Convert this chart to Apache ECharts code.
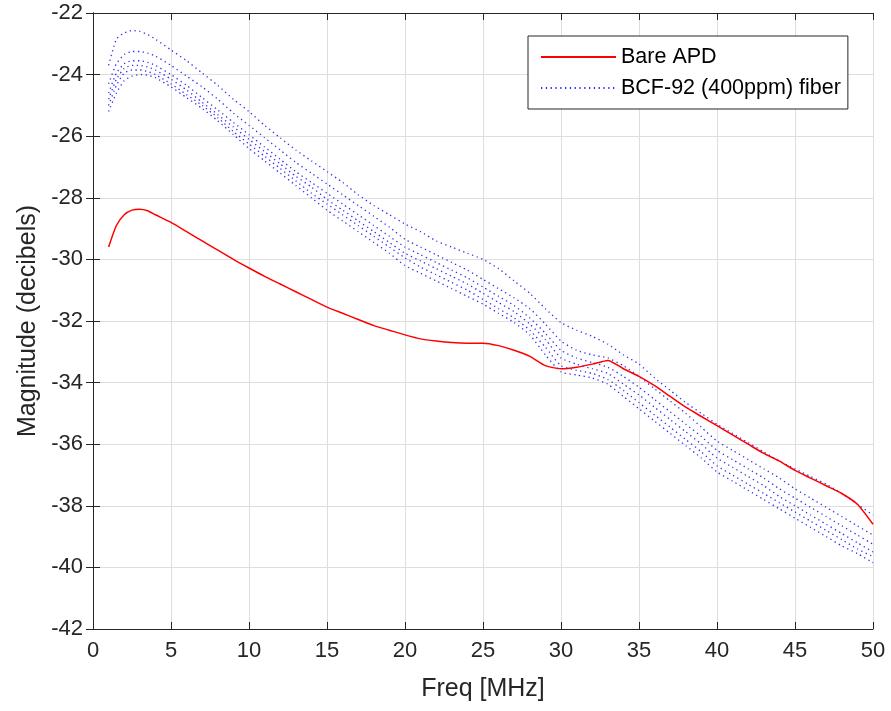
<!DOCTYPE html>
<html>
<head>
<meta charset="utf-8">
<script src="https://cdn.jsdelivr.net/npm/echarts@6/dist/echarts.min.js"></script>
<style>
  html, body { margin: 0; padding: 0; background: #fff; }
  #main { width: 891px; height: 711px; }
</style>
</head>
<body>
<div id="main"></div>
<script>
// frequency axis (MHz)
const freq = [1,1.5,2,2.5,3,3.5,4,5,6,7,8,9,10,11,12,13,14,15,16,17,18,19,20,21,22,23,24,25,26,27,28,29,30,31,32,33,34,35,36,37,38,39,40,41,42,43,44,45,46,47,48,49,50];

// bare APD response (dB)
const bareApd = [-29.6,-28.9,-28.55,-28.4,-28.37,-28.42,-28.55,-28.8,-29.1,-29.4,-29.7,-30.0,-30.28,-30.55,-30.8,-31.05,-31.3,-31.55,-31.75,-31.95,-32.15,-32.3,-32.45,-32.58,-32.65,-32.7,-32.72,-32.72,-32.8,-32.95,-33.15,-33.45,-33.55,-33.5,-33.4,-33.28,-33.55,-33.8,-34.1,-34.45,-34.8,-35.1,-35.4,-35.7,-36.0,-36.3,-36.55,-36.85,-37.1,-37.35,-37.6,-37.95,-38.6];

// BCF-92 fiber runs (dB)
const fiber1 = [-23.7,-22.85,-22.65,-22.57,-22.6,-22.7,-22.85,-23.2,-23.55,-23.95,-24.35,-24.8,-25.2,-25.65,-26.05,-26.45,-26.8,-27.15,-27.5,-27.9,-28.25,-28.55,-28.85,-29.1,-29.4,-29.6,-29.8,-30.0,-30.3,-30.7,-31.1,-31.6,-32.05,-32.3,-32.5,-32.75,-33.1,-33.4,-33.85,-34.25,-34.65,-35.0,-35.35,-35.65,-35.95,-36.25,-36.55,-36.8,-37.05,-37.3,-37.6,-37.95,-38.3];
const fiber2 = [-24.3,-23.65,-23.35,-23.25,-23.25,-23.3,-23.4,-23.7,-24.05,-24.4,-24.8,-25.25,-25.65,-26.05,-26.45,-26.85,-27.2,-27.55,-27.9,-28.25,-28.6,-28.95,-29.35,-29.6,-29.85,-30.1,-30.35,-30.65,-30.95,-31.25,-31.6,-32.1,-32.65,-32.95,-33.1,-33.2,-33.45,-33.8,-34.2,-34.6,-35.0,-35.45,-35.9,-36.2,-36.5,-36.8,-37.1,-37.45,-37.75,-38.05,-38.35,-38.65,-38.95];
const fiber3 = [-24.6,-23.95,-23.65,-23.55,-23.55,-23.6,-23.7,-24.0,-24.35,-24.75,-25.15,-25.55,-25.95,-26.35,-26.75,-27.15,-27.5,-27.85,-28.2,-28.55,-28.9,-29.25,-29.6,-29.85,-30.1,-30.35,-30.6,-30.9,-31.2,-31.5,-31.9,-32.4,-32.95,-33.2,-33.35,-33.5,-33.8,-34.15,-34.55,-34.95,-35.35,-35.75,-36.2,-36.5,-36.8,-37.1,-37.45,-37.75,-38.05,-38.35,-38.65,-38.95,-39.25];
const fiber4 = [-24.8,-24.15,-23.8,-23.7,-23.7,-23.75,-23.85,-24.15,-24.5,-24.9,-25.3,-25.7,-26.1,-26.5,-26.9,-27.3,-27.65,-28.05,-28.4,-28.75,-29.1,-29.45,-29.8,-30.05,-30.3,-30.55,-30.8,-31.1,-31.4,-31.7,-32.1,-32.6,-33.2,-33.4,-33.55,-33.7,-34.05,-34.4,-34.8,-35.2,-35.6,-36.0,-36.45,-36.75,-37.05,-37.35,-37.7,-38.0,-38.3,-38.6,-38.9,-39.2,-39.5];
const fiber5 = [-25.0,-24.35,-23.95,-23.85,-23.85,-23.9,-24.0,-24.3,-24.65,-25.0,-25.4,-25.85,-26.25,-26.65,-27.05,-27.45,-27.85,-28.2,-28.55,-28.9,-29.25,-29.6,-29.95,-30.25,-30.5,-30.75,-31.0,-31.3,-31.6,-31.9,-32.3,-32.85,-33.45,-33.6,-33.7,-33.9,-34.25,-34.65,-35.05,-35.45,-35.85,-36.25,-36.7,-37.0,-37.3,-37.6,-37.9,-38.2,-38.5,-38.8,-39.1,-39.4,-39.65];
const fiber6 = [-25.2,-24.6,-24.2,-24.05,-24.0,-24.02,-24.1,-24.4,-24.75,-25.1,-25.5,-25.95,-26.4,-26.8,-27.2,-27.6,-28.0,-28.4,-28.75,-29.1,-29.45,-29.8,-30.2,-30.45,-30.7,-30.95,-31.2,-31.45,-31.75,-32.05,-32.45,-33.1,-33.65,-33.75,-33.85,-34.05,-34.45,-34.85,-35.25,-35.65,-36.05,-36.45,-36.9,-37.2,-37.5,-37.8,-38.1,-38.4,-38.7,-39.0,-39.3,-39.55,-39.85];

const fiberRuns = [fiber1, fiber2, fiber3, fiber4, fiber5, fiber6];
const apdName = 'Bare APD';
const fiberName = 'BCF-92 (400ppm) fiber';

const font = 'Liberation Sans, Arial, Helvetica, sans-serif';
const ink = '#262626';

function pairs(ys) {
  return freq.map(function (x, i) { return [x, ys[i]]; });
}

let myChart = echarts.init(document.getElementById('main'));

let series = [{
  name: apdName,
  type: 'line',
  data: pairs(bareApd),
  showSymbol: false,
  symbol: 'none',
  smooth: 0.2,
  z: 3,
  lineStyle: { color: '#ff0000', width: 1.5 },
  itemStyle: { color: '#ff0000' }
}];

fiberRuns.forEach(function (run) {
  series.push({
    name: fiberName,
    type: 'line',
    data: pairs(run),
    showSymbol: false,
    symbol: 'none',
    smooth: 0.2,
    z: 2,
    lineStyle: { color: '#0a0af0', width: 1.3, type: [1.3, 3.5], opacity: 0.85 },
    itemStyle: { color: '#0a0af0' }
  });
});

let option = {
  animation: false,
  backgroundColor: '#ffffff',
  grid: { left: 93, right: 18, top: 13, bottom: 82, containLabel: false },
  legend: {
    data: [apdName, fiberName],
    orient: 'vertical',
    left: 528,
    top: 36,
    padding: [10, 7, 10, 12],
    itemWidth: 75,
    itemHeight: 14,
    itemGap: 9,
    backgroundColor: '#ffffff',
    borderColor: ink,
    borderWidth: 1,
    borderRadius: 0,
    itemStyle: { opacity: 0 },
    textStyle: { fontFamily: font, fontSize: 21.5, color: '#000' }
  },
  xAxis: [{
    type: 'value',
    min: 0, max: 50, interval: 5,
    position: 'bottom',
    name: 'Freq [MHz]',
    nameLocation: 'middle',
    nameGap: 48,
    nameTextStyle: { fontFamily: font, fontSize: 25, color: ink },
    axisLine: { show: true, lineStyle: { color: ink, width: 1 } },
    axisTick: { show: true, inside: true, length: 7, lineStyle: { color: ink } },
    axisLabel: { fontFamily: font, fontSize: 22, color: ink, margin: 11 },
    splitLine: { show: true, lineStyle: { color: '#dedede', width: 1 } }
  }, {
    type: 'value',
    min: 0, max: 50, interval: 5,
    position: 'top',
    axisLine: { show: true, lineStyle: { color: ink, width: 1 } },
    axisTick: { show: true, inside: true, length: 7, lineStyle: { color: ink } },
    axisLabel: { show: false },
    splitLine: { show: false }
  }],
  yAxis: [{
    type: 'value',
    min: -42, max: -22, interval: 2,
    position: 'left',
    name: 'Magnitude (decibels)',
    nameLocation: 'middle',
    nameGap: 52,
    nameTextStyle: { fontFamily: font, fontSize: 25, color: ink },
    axisLine: { show: true, lineStyle: { color: ink, width: 1 } },
    axisTick: { show: true, inside: true, length: 7, lineStyle: { color: ink } },
    axisLabel: { fontFamily: font, fontSize: 22, color: ink, margin: 10 },
    splitLine: { show: true, lineStyle: { color: '#dedede', width: 1 } }
  }, {
    type: 'value',
    min: -42, max: -22, interval: 2,
    position: 'right',
    axisLine: { show: true, lineStyle: { color: ink, width: 1 } },
    axisTick: { show: true, inside: true, length: 7, lineStyle: { color: ink } },
    axisLabel: { show: false },
    splitLine: { show: false }
  }],
  series: series
};

myChart.setOption(option);
</script>
</body>
</html>
